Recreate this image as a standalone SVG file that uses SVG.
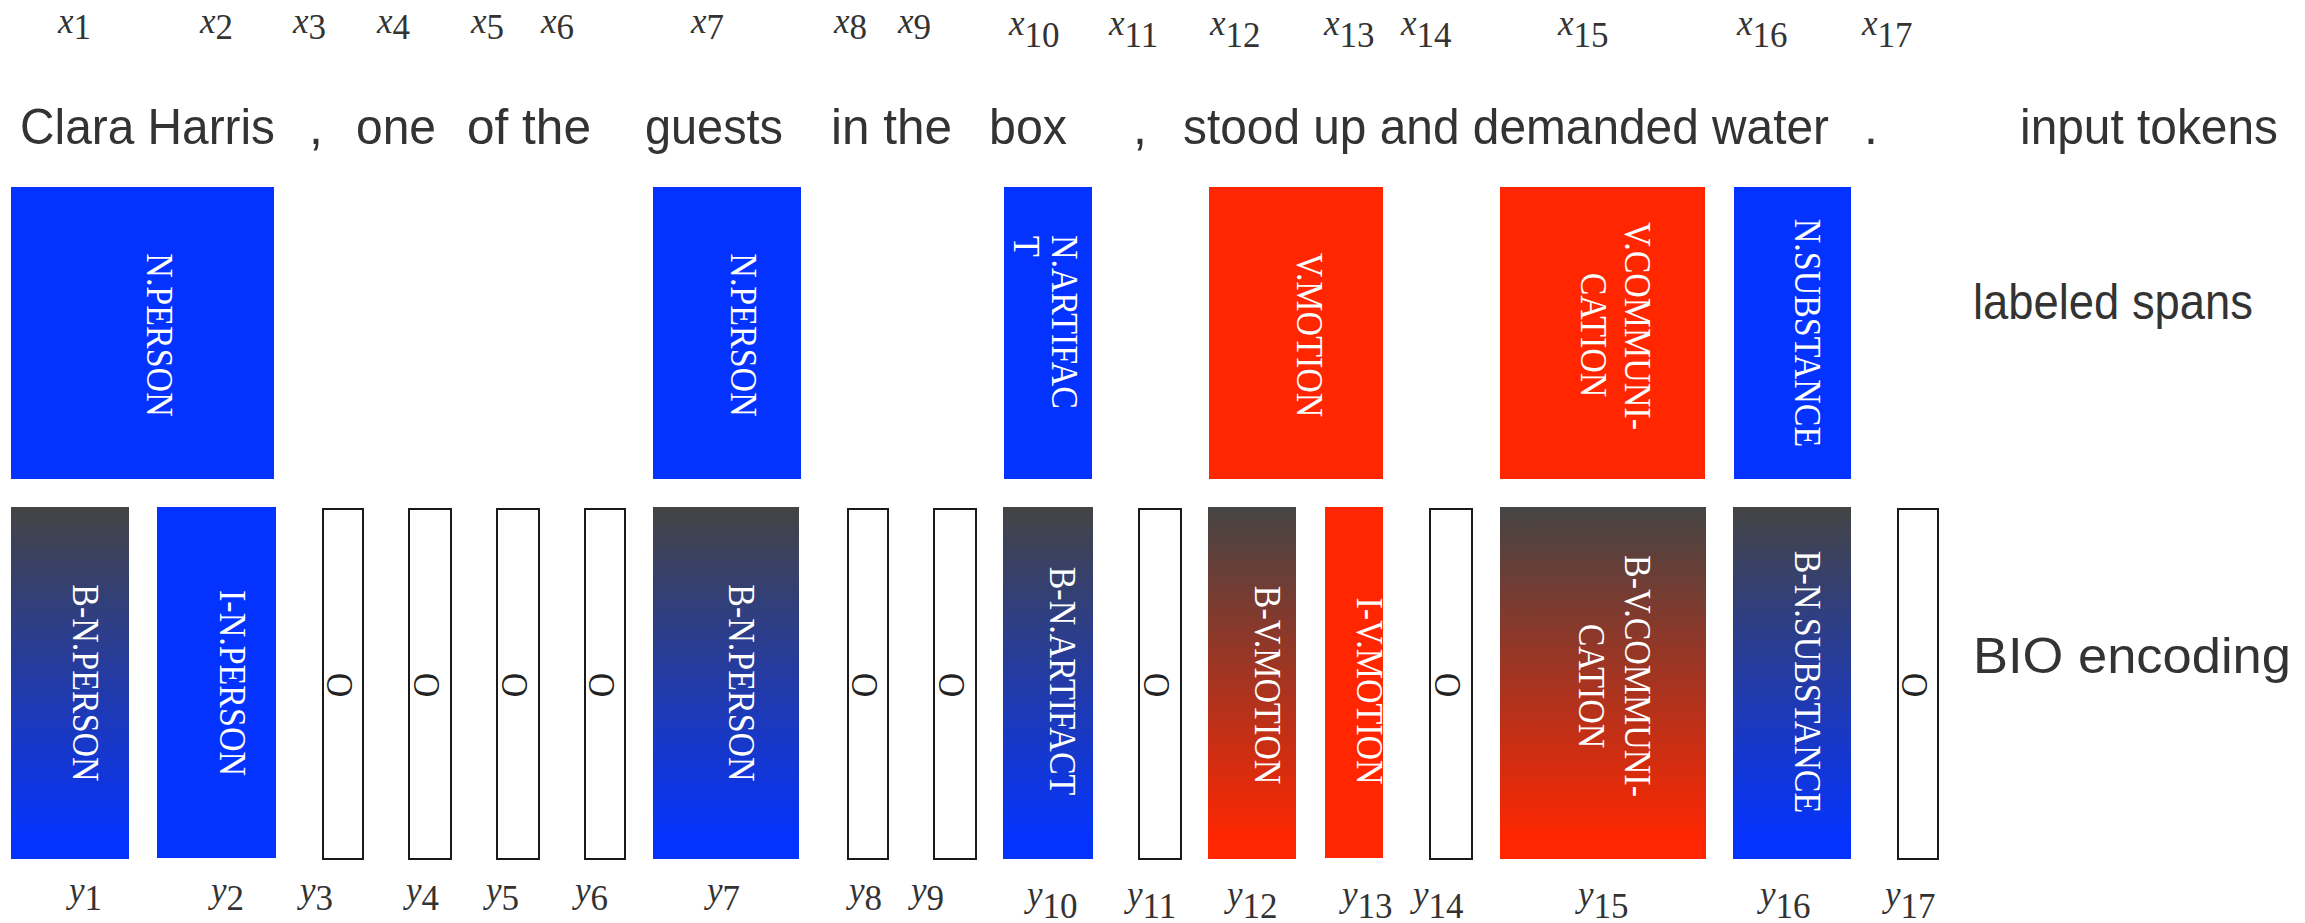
<svg xmlns="http://www.w3.org/2000/svg" width="2305" height="923" viewBox="0 0 2305 923">
  <style>
    .tok { font-family: "Liberation Sans", Arial, sans-serif; font-size: 50px; fill: #333333; }
    .var { font-family: "Liberation Serif", "Times New Roman", serif; font-style: italic; font-size: 35px; fill: #333333; }
    .var tspan { font-style: normal; }
    .lbl { font-family: "Liberation Serif", "Times New Roman", serif; font-size: 34px; fill: #ffffff; }
    .lblk { font-family: "Liberation Serif", "Times New Roman", serif; font-size: 34px; fill: #222222; }
    .blue { fill: #0433ff; }
    .red { fill: #ff2600; }
    .gblue { fill: url(#gradBlue); }
    .gred { fill: url(#gradRed); }
    .obox { fill: #ffffff; stroke: #1a1a1a; stroke-width: 2; }
  </style>
  <defs>
    <linearGradient id="gradBlue" x1="0" y1="0" x2="0" y2="1">
      <stop offset="0" stop-color="#444444"/>
      <stop offset="0.95" stop-color="#0433ff"/>
    </linearGradient>
    <linearGradient id="gradRed" x1="0" y1="0" x2="0" y2="1">
      <stop offset="0" stop-color="#444444"/>
      <stop offset="0.95" stop-color="#ff2600"/>
    </linearGradient>
  </defs>

  <rect width="2305" height="923" fill="#ffffff"/>

  <!-- token indices -->
  <g id="x-indices" class="var">
    <text x="58" y="33">x<tspan dy="6">1</tspan></text>
    <text x="200" y="33">x<tspan dy="6">2</tspan></text>
    <text x="293" y="33">x<tspan dy="6">3</tspan></text>
    <text x="377" y="33">x<tspan dy="6">4</tspan></text>
    <text x="471" y="33">x<tspan dy="6">5</tspan></text>
    <text x="541" y="33">x<tspan dy="6">6</tspan></text>
    <text x="691" y="33">x<tspan dy="6">7</tspan></text>
    <text x="834" y="33">x<tspan dy="6">8</tspan></text>
    <text x="898" y="33">x<tspan dy="6">9</tspan></text>
    <text x="1009" y="35">x<tspan dy="12">10</tspan></text>
    <text x="1109" y="35">x<tspan dy="12">11</tspan></text>
    <text x="1210" y="35">x<tspan dy="12">12</tspan></text>
    <text x="1324" y="35">x<tspan dy="12">13</tspan></text>
    <text x="1401" y="35">x<tspan dy="12">14</tspan></text>
    <text x="1558" y="35">x<tspan dy="12">15</tspan></text>
    <text x="1737" y="35">x<tspan dy="12">16</tspan></text>
    <text x="1862" y="35">x<tspan dy="12">17</tspan></text>
  </g>

  <!-- sentence and row names -->
  <g id="tokens" class="tok">
    <text x="20" y="144" textLength="255" lengthAdjust="spacingAndGlyphs">Clara Harris</text>
    <text x="309" y="144">,</text>
    <text x="356" y="144" textLength="80" lengthAdjust="spacingAndGlyphs">one</text>
    <text x="467" y="144" textLength="124" lengthAdjust="spacingAndGlyphs">of the</text>
    <text x="645" y="144" textLength="138" lengthAdjust="spacingAndGlyphs">guests</text>
    <text x="831" y="144" textLength="121" lengthAdjust="spacingAndGlyphs">in the</text>
    <text x="989" y="144" textLength="78" lengthAdjust="spacingAndGlyphs">box</text>
    <text x="1133" y="144">,</text>
    <text x="1183" y="144" textLength="646" lengthAdjust="spacingAndGlyphs">stood up and demanded water</text>
    <text x="1864" y="144">.</text>
    <text id="row-input" x="2020" y="144" textLength="258" lengthAdjust="spacingAndGlyphs">input tokens</text>
    <text id="row-spans" x="1973" y="319" textLength="280" lengthAdjust="spacingAndGlyphs">labeled spans</text>
    <text id="row-bio" x="1973" y="673" textLength="318" lengthAdjust="spacingAndGlyphs">BIO encoding</text>
  </g>

  <!-- labeled spans -->
  <g id="span-1-2">
    <rect class="blue" x="11" y="187" width="263" height="292"/>
    <text class="lbl" text-anchor="middle" transform="translate(147,335) rotate(90) scale(1,1.12)">N.PERSON</text>
  </g>
  <g id="span-7">
    <rect class="blue" x="653" y="187" width="148" height="292"/>
    <text class="lbl" text-anchor="middle" transform="translate(731,335) rotate(90) scale(1,1.12)">N.PERSON</text>
  </g>
  <g id="span-10">
    <rect class="blue" x="1004" y="187" width="88" height="292"/>
    <text class="lbl" transform="translate(1052,235) rotate(90) scale(1,1.12)">N.ARTIFAC</text>
    <text class="lbl" transform="translate(1014,236) rotate(90) scale(1,1.12)">T</text>
  </g>
  <g id="span-12-13">
    <rect class="red" x="1209" y="187" width="174" height="292"/>
    <text class="lbl" text-anchor="middle" transform="translate(1297,335) rotate(90) scale(1,1.12)">V.MOTION</text>
  </g>
  <g id="span-15">
    <rect class="red" x="1500" y="187" width="205" height="292"/>
    <text class="lbl" text-anchor="middle" transform="translate(1625,326) rotate(90) scale(1,1.12)">V.COMMUNI-</text>
    <text class="lbl" text-anchor="middle" transform="translate(1581,335) rotate(90) scale(1,1.12)">CATION</text>
  </g>
  <g id="span-16">
    <rect class="blue" x="1734" y="187" width="117" height="292"/>
    <text class="lbl" text-anchor="middle" transform="translate(1795,333) rotate(90) scale(1,1.12)">N.SUBSTANCE</text>
  </g>

  <!-- BIO tags -->
  <g id="tag-1">
    <rect class="gblue" x="11" y="507" width="118" height="352"/>
    <text class="lbl" text-anchor="middle" transform="translate(73,683) rotate(90) scale(1,1.12)">B-N.PERSON</text>
  </g>
  <g id="tag-2">
    <rect class="blue" x="157" y="507" width="119" height="351"/>
    <text class="lbl" text-anchor="middle" transform="translate(220,683) rotate(90) scale(1,1.12)">I-N.PERSON</text>
  </g>
  <g id="tag-3">
    <rect class="obox" x="323" y="509" width="40" height="350"/>
    <text class="lblk" text-anchor="middle" transform="translate(327,685) rotate(90) scale(1,1.12)">O</text>
  </g>
  <g id="tag-4">
    <rect class="obox" x="409" y="509" width="42" height="350"/>
    <text class="lblk" text-anchor="middle" transform="translate(414,685) rotate(90) scale(1,1.12)">O</text>
  </g>
  <g id="tag-5">
    <rect class="obox" x="497" y="509" width="42" height="350"/>
    <text class="lblk" text-anchor="middle" transform="translate(502,685) rotate(90) scale(1,1.12)">O</text>
  </g>
  <g id="tag-6">
    <rect class="obox" x="585" y="509" width="40" height="350"/>
    <text class="lblk" text-anchor="middle" transform="translate(589,685) rotate(90) scale(1,1.12)">O</text>
  </g>
  <g id="tag-7">
    <rect class="gblue" x="653" y="507" width="146" height="352"/>
    <text class="lbl" text-anchor="middle" transform="translate(729,683) rotate(90) scale(1,1.12)">B-N.PERSON</text>
  </g>
  <g id="tag-8">
    <rect class="obox" x="848" y="509" width="40" height="350"/>
    <text class="lblk" text-anchor="middle" transform="translate(852,685) rotate(90) scale(1,1.12)">O</text>
  </g>
  <g id="tag-9">
    <rect class="obox" x="934" y="509" width="42" height="350"/>
    <text class="lblk" text-anchor="middle" transform="translate(939,685) rotate(90) scale(1,1.12)">O</text>
  </g>
  <g id="tag-10">
    <rect class="gblue" x="1003" y="507" width="90" height="352"/>
    <text class="lbl" text-anchor="middle" transform="translate(1050,681) rotate(90) scale(1,1.12)">B-N.ARTIFACT</text>
  </g>
  <g id="tag-11">
    <rect class="obox" x="1139" y="509" width="42" height="350"/>
    <text class="lblk" text-anchor="middle" transform="translate(1144,685) rotate(90) scale(1,1.12)">O</text>
  </g>
  <g id="tag-12">
    <rect class="gred" x="1208" y="507" width="88" height="352"/>
    <text class="lbl" text-anchor="middle" transform="translate(1255,685) rotate(90) scale(1,1.12)">B-V.MOTION</text>
  </g>
  <g id="tag-13">
    <rect class="red" x="1325" y="507" width="58" height="351"/>
    <text class="lbl" text-anchor="middle" transform="translate(1357,691) rotate(90) scale(1,1.12)">I-V.MOTION</text>
  </g>
  <g id="tag-14">
    <rect class="obox" x="1430" y="509" width="42" height="350"/>
    <text class="lblk" text-anchor="middle" transform="translate(1435,685) rotate(90) scale(1,1.12)">O</text>
  </g>
  <g id="tag-15">
    <rect class="gred" x="1500" y="507" width="206" height="352"/>
    <text class="lbl" text-anchor="middle" transform="translate(1625,676) rotate(90) scale(1,1.12)">B-V.COMMUNI-</text>
    <text class="lbl" text-anchor="middle" transform="translate(1579,686) rotate(90) scale(1,1.12)">CATION</text>
  </g>
  <g id="tag-16">
    <rect class="gblue" x="1733" y="507" width="118" height="352"/>
    <text class="lbl" text-anchor="middle" transform="translate(1795,682) rotate(90) scale(1,1.12)">B-N.SUBSTANCE</text>
  </g>
  <g id="tag-17">
    <rect class="obox" x="1898" y="509" width="40" height="350"/>
    <text class="lblk" text-anchor="middle" transform="translate(1902,685) rotate(90) scale(1,1.12)">O</text>
  </g>

  <!-- output indices -->
  <g id="y-indices" class="var">
    <text x="69" y="902">y<tspan dy="8">1</tspan></text>
    <text x="211" y="902">y<tspan dy="8">2</tspan></text>
    <text x="300" y="902">y<tspan dy="8">3</tspan></text>
    <text x="406" y="902">y<tspan dy="8">4</tspan></text>
    <text x="486" y="902">y<tspan dy="8">5</tspan></text>
    <text x="575" y="902">y<tspan dy="8">6</tspan></text>
    <text x="707" y="902">y<tspan dy="8">7</tspan></text>
    <text x="849" y="902">y<tspan dy="8">8</tspan></text>
    <text x="911" y="902">y<tspan dy="8">9</tspan></text>
    <text x="1027" y="906">y<tspan dy="12">10</tspan></text>
    <text x="1127" y="906">y<tspan dy="12">11</tspan></text>
    <text x="1227" y="906">y<tspan dy="12">12</tspan></text>
    <text x="1342" y="906">y<tspan dy="12">13</tspan></text>
    <text x="1413" y="906">y<tspan dy="12">14</tspan></text>
    <text x="1578" y="906">y<tspan dy="12">15</tspan></text>
    <text x="1760" y="906">y<tspan dy="12">16</tspan></text>
    <text x="1885" y="906">y<tspan dy="12">17</tspan></text>
  </g>
</svg>
